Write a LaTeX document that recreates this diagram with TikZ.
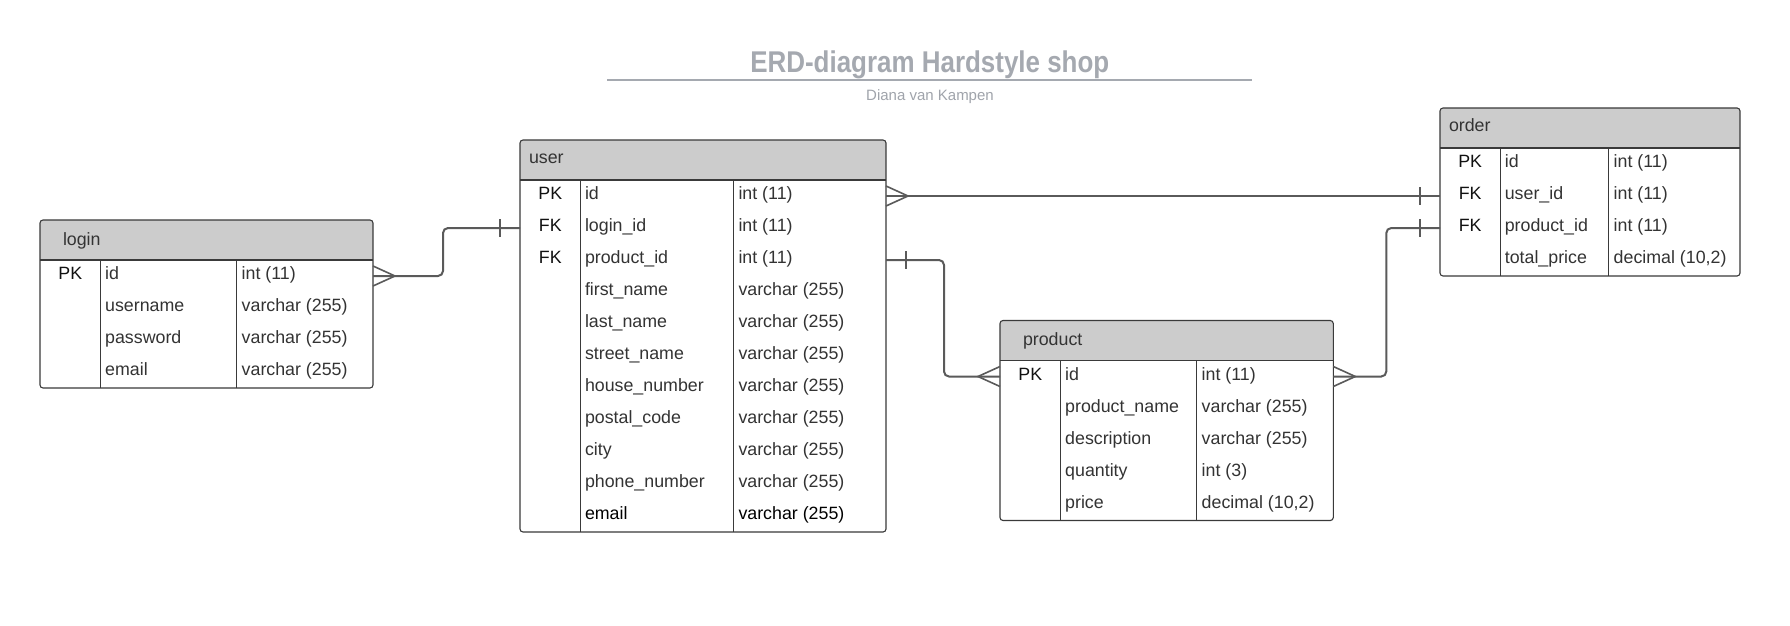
\documentclass[tikz,border=0pt]{standalone}
\usepackage{fontspec}
\usepackage{graphicx}
\setmainfont{Liberation Sans}
\usetikzlibrary{calc}
\definecolor{hdrfill}{HTML}{CCCCCC}
\definecolor{boxline}{HTML}{3A3A3A}
\definecolor{connc}{HTML}{5A5A5A}
\definecolor{txtc}{HTML}{333333}
\definecolor{keyc}{HTML}{111111}
\definecolor{titlec}{HTML}{A5A9B0}
\definecolor{subc}{HTML}{A0A4AB}

\tikzset{
  tablebox/.style={draw=boxline, line width=1.1, rounded corners=3, inner sep=0, outer sep=0},
  rowbox/.style={draw=none, inner sep=0, outer sep=0, minimum height=32},
  cell/.style={inner sep=0, outer sep=0, text=txtc, font=\fontsize{17.8}{20}\selectfont},
  keycell/.style={cell, text=keyc},
  conn/.style={draw=connc, line width=2},
  crow/.style={draw=connc, line width=1.6},
}

% name, x1, y1, x2, hb, y2, d1, d2
\newcommand{\ErdBox}[8]{%
  \begin{scope}
    \clip[rounded corners=3] (#2,#3) rectangle (#4,#6);
    \fill[hdrfill] (#2,#3) rectangle (#4,#5);
  \end{scope}
  \draw[boxline, line width=1.1] (#2,#5) -- (#4,#5) (#7,#5) -- (#7,#6) (#8,#5) -- (#8,#6);
  \node[tablebox, minimum width={(#4)-(#2)}, minimum height={(#6)-(#3)}] (#1) at ({((#2)+(#4))/2},{((#3)+(#6))/2}) {};
}
% name, x1, x2, yc, d1, d2, key, field, type
\newcommand{\ErdRow}[9]{%
  \node[rowbox, minimum width={(#3)-(#2)}] (#1) at ({((#2)+(#3))/2},#4) {};
  \node[keycell, anchor=base] (#1-k) at ({((#2)+(#5))/2},{(#4)+3.8}) {#7};
  \node[cell, anchor=base west] (#1-f) at ({(#5)+4.5},{(#4)+3.8}) {#8};
  \node[cell, anchor=base west] (#1-t) at ({(#6)+5},{(#4)+3.8}) {#9};
}

\begin{document}
\begin{tikzpicture}[x=1pt,y=-1pt]
\useasboundingbox (0,0) rectangle (1790,626);
\fill[white] (0,0) rectangle (1790,626);

% title
\node[anchor=base, text=titlec, font=\fontsize{30}{34}\selectfont\bfseries] (title) at (929.8,72.5) {\scalebox{0.865}[1]{ERD-diagram Hardstyle shop}};
\coordinate (tl) at (607,80);
\coordinate (tr) at (1252,80);
\draw[titlec, line width=2] (tl) -- (tr);
\node[anchor=base, text=subc, font=\fontsize{15}{18}\selectfont] (subtitle) at (930,100.5) {Diana van Kampen};

% login
\ErdBox{login}{40}{220}{373}{260}{388}{100.7}{236.7}
\node[cell, anchor=base west] (login-h) at (63,245) {login};
\ErdRow{login-r1}{40}{373}{276}{100.7}{236.7}{PK}{id}{int (11)}
\ErdRow{login-r2}{40}{373}{308}{100.7}{236.7}{}{username}{varchar (255)}
\ErdRow{login-r3}{40}{373}{340}{100.7}{236.7}{}{password}{varchar (255)}
\ErdRow{login-r4}{40}{373}{372}{100.7}{236.7}{}{email}{varchar (255)}

% user
\ErdBox{user}{520}{140}{886}{180}{532}{580.5}{733.5}
\node[cell, anchor=base west] (user-h) at (529,163.3) {user};
\ErdRow{user-r1}{520}{886}{196}{580.5}{733.5}{PK}{id}{int (11)}
\ErdRow{user-r2}{520}{886}{228}{580.5}{733.5}{FK}{login\_id}{int (11)}
\ErdRow{user-r3}{520}{886}{260}{580.5}{733.5}{FK}{product\_id}{int (11)}
\ErdRow{user-r4}{520}{886}{292}{580.5}{733.5}{}{first\_name}{varchar (255)}
\ErdRow{user-r5}{520}{886}{324}{580.5}{733.5}{}{last\_name}{varchar (255)}
\ErdRow{user-r6}{520}{886}{356}{580.5}{733.5}{}{street\_name}{varchar (255)}
\ErdRow{user-r7}{520}{886}{388}{580.5}{733.5}{}{house\_number}{varchar (255)}
\ErdRow{user-r8}{520}{886}{420}{580.5}{733.5}{}{postal\_code}{varchar (255)}
\ErdRow{user-r9}{520}{886}{452}{580.5}{733.5}{}{city}{varchar (255)}
\ErdRow{user-r10}{520}{886}{484}{580.5}{733.5}{}{phone\_number}{varchar (255)}
\ErdRow{user-r11}{520}{886}{516}{580.5}{733.5}{}{\textcolor{black}{email}}{\textcolor{black}{varchar (255)}}

% order
\ErdBox{order}{1440}{108}{1740}{148}{276}{1500.3}{1608.7}
\node[cell, anchor=base west] (order-h) at (1449,131) {order};
\ErdRow{order-r1}{1440}{1740}{164}{1500.3}{1608.7}{PK}{id}{int (11)}
\ErdRow{order-r2}{1440}{1740}{196}{1500.3}{1608.7}{FK}{user\_id}{int (11)}
\ErdRow{order-r3}{1440}{1740}{228}{1500.3}{1608.7}{FK}{product\_id}{int (11)}
\ErdRow{order-r4}{1440}{1740}{260}{1500.3}{1608.7}{}{total\_price}{decimal (10,2)}

% product
\ErdBox{product}{1000}{320.5}{1333.3}{360.5}{520.5}{1060.7}{1196.7}
\node[cell, anchor=base west] (product-h) at (1023,345) {product};
\ErdRow{product-r1}{1000}{1333.3}{376.5}{1060.7}{1196.7}{PK}{id}{int (11)}
\ErdRow{product-r2}{1000}{1333.3}{408.5}{1060.7}{1196.7}{}{product\_name}{varchar (255)}
\ErdRow{product-r3}{1000}{1333.3}{440.5}{1060.7}{1196.7}{}{description}{varchar (255)}
\ErdRow{product-r4}{1000}{1333.3}{472.5}{1060.7}{1196.7}{}{quantity}{int (3)}
\ErdRow{product-r5}{1000}{1333.3}{504.5}{1060.7}{1196.7}{}{price}{decimal (10,2)}

% connector login -> user
\draw[conn, rounded corners=5] (login-r1.east) -- ($(login-r1.east)+(70,0)$) |- (user-r2.west);
\draw[crow] ($(login-r1.east)+(0,-10)$) -- ($(login-r1.east)+(22,0)$) -- ($(login-r1.east)+(0,10)$);
\draw[crow] ($(user-r2.west)+(-20,-9)$) -- ($(user-r2.west)+(-20,9)$);

% connector user -> order
\draw[conn] (user-r1.east) -- (order-r2.west);
\draw[crow] ($(user-r1.east)+(0,-10)$) -- ($(user-r1.east)+(22,0)$) -- ($(user-r1.east)+(0,10)$);
\draw[crow] ($(order-r2.west)+(-20,-9)$) -- ($(order-r2.west)+(-20,9)$);

% connector user -> product
\draw[conn, rounded corners=5] (user-r3.east) -- ($(user-r3.east)+(58,0)$) |- (product-r1.west);
\draw[crow] ($(user-r3.east)+(20,-9)$) -- ($(user-r3.east)+(20,9)$);
\draw[crow] ($(product-r1.west)+(0,-10)$) -- ($(product-r1.west)+(-22,0)$) -- ($(product-r1.west)+(0,10)$);

% connector product -> order
\draw[conn, rounded corners=5] (product-r1.east) -- ($(product-r1.east)+(53,0)$) |- (order-r3.west);
\draw[crow] ($(product-r1.east)+(0,-10)$) -- ($(product-r1.east)+(22,0)$) -- ($(product-r1.east)+(0,10)$);
\draw[crow] ($(order-r3.west)+(-20,-9)$) -- ($(order-r3.west)+(-20,9)$);
\end{tikzpicture}
\end{document}
